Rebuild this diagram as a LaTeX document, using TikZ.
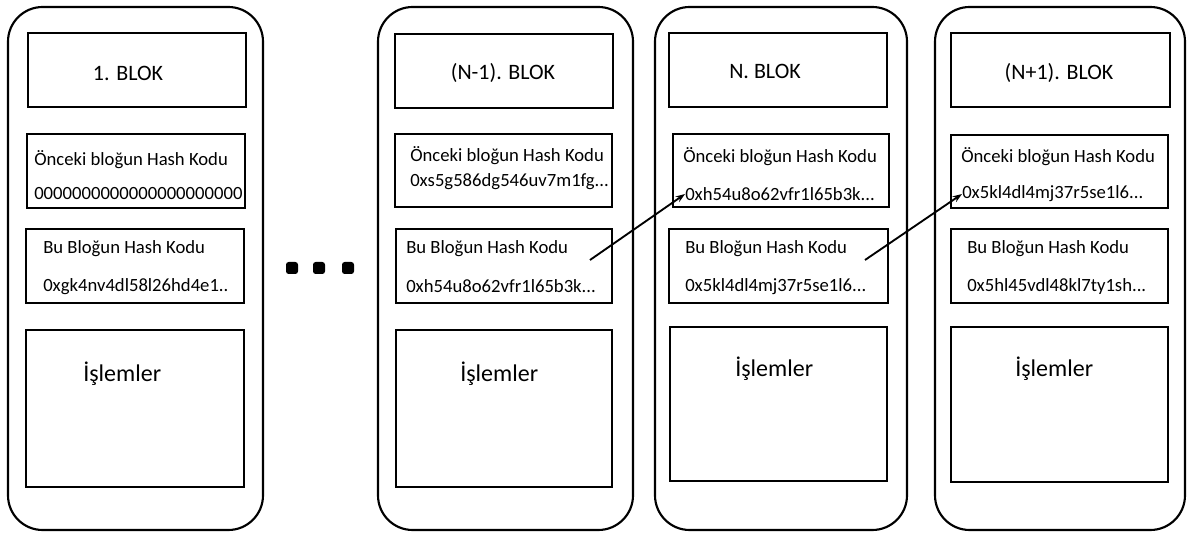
\documentclass[tikz,border=0pt]{standalone}
\usepackage{fontspec}
\setmainfont{Carlito}
\usetikzlibrary{arrows.meta}
\tikzset{blok/.style={draw,line width=1.6pt,rounded corners=26pt},
  kutu/.style={draw,line width=2.2pt},
  baslik/.style={font=\fontsize{16.5}{18}\selectfont},
  yazi/.style={anchor=west,inner sep=0pt,font=\fontsize{14}{16}\selectfont},
  islem/.style={anchor=west,inner sep=0pt,font=\fontsize{18}{20}\selectfont},
  nokta/.style={fill,rounded corners=2pt}}

\begin{document}
\begin{tikzpicture}[x=0.75pt,y=-0.75pt,>={Stealth[length=7pt,width=5pt]}]
        \useasboundingbox (0,0) rectangle (1189,534);
        % 1. blok
        \draw[blok] (8,7) rectangle (263,530);
        \draw[kutu] (28,33) rectangle (246,107);
        \draw[kutu] (27,134) rectangle (245,208);
        \draw[kutu] (26,229) rectangle (244,303);
        \draw[kutu] (26,330) rectangle (244,487);
        \node[baslik] (t1) at (128,73) {1. BLOK};
        \node[yazi] (o1) at (34,160) {Önceki bloğun Hash Kodu};
        \node[yazi] (h1) at (34,194) {0000000000000000000000};
        \node[yazi] (b1) at (43,249) {Bu Bloğun Hash Kodu};
        \node[yazi] (k1) at (43,287) {0xgk4nv4dl58l26hd4e1..};
        \node[islem] (i1) at (83,374) {İşlemler};

        % noktalar
        \fill[nokta] (286,262) rectangle (298,274);
        \fill[nokta] (313,262) rectangle (325,274);
        \fill[nokta] (342,262) rectangle (354,274);

        % (N-1). blok
        \draw[blok] (378,7) rectangle (633,530);
        \draw[kutu] (395,34) rectangle (613,108);
        \draw[kutu] (395,134) rectangle (612,207);
        \draw[kutu] (396,229) rectangle (612,303);
        \draw[kutu] (396,330) rectangle (612,487);
        \node[baslik] (t2) at (503,73) {(N-1). BLOK};
        \node[yazi] (o2) at (410,156) {Önceki bloğun Hash Kodu};
        \node[yazi] (h2) at (410,182) {0xs5g586dg546uv7m1fg...};
        \node[yazi] (b2) at (406,249) {Bu Bloğun Hash Kodu};
        \node[yazi] (k2) at (406,286) {0xh54u8o62vfr1l65b3k...};
        \node[islem] (i2) at (460,374) {İşlemler};
        \coordinate (c2) at (590,260);

        % N. blok
        \draw[blok] (655,7) rectangle (907,530);
        \draw[kutu] (669,33) rectangle (887,107);
        \draw[kutu] (673,134) rectangle (889,207);
        \draw[kutu] (669,229) rectangle (888,303);
        \draw[kutu] (670,327) rectangle (887,481);
        \node[baslik] (t3) at (765,71) {N. BLOK};
        \node[yazi] (o3) at (683,157) {Önceki bloğun Hash Kodu};
        \node[yazi] (h3) at (685,194) {0xh54u8o62vfr1l65b3k...};
        \node[yazi] (b3) at (685,249) {Bu Bloğun Hash Kodu};
        \node[yazi] (k3) at (685,287) {0x5kl4dl4mj37r5se1l6...};
        \node[islem] (i3) at (735,369) {İşlemler};
        \coordinate (c3) at (865,260);

        % (N+1). blok
        \draw[blok] (935,7) rectangle (1185,530);
        \draw[kutu] (951,33) rectangle (1170,107);
        \draw[kutu] (951,135) rectangle (1168,208);
        \draw[kutu] (951,229) rectangle (1168,303);
        \draw[kutu] (951,327) rectangle (1168,482);
        \node[baslik] (t4) at (1059,73) {(N+1). BLOK};
        \node[yazi] (o4) at (961,157) {Önceki bloğun Hash Kodu};
        \node[yazi] (h4) at (962,194) {0x5kl4dl4mj37r5se1l6...};
        \node[yazi] (b4) at (967,249) {Bu Bloğun Hash Kodu};
        \node[yazi] (k4) at (967,287) {0x5hl45vdl48kl7ty1sh...};
        \node[islem] (i4) at (1015,369) {İşlemler};

        \draw[->,line width=1.4pt] (c2) -- (h3.west);
        \draw[->,line width=1.4pt] (c3) -- (h4.west);
    \end{tikzpicture}
\end{document}
